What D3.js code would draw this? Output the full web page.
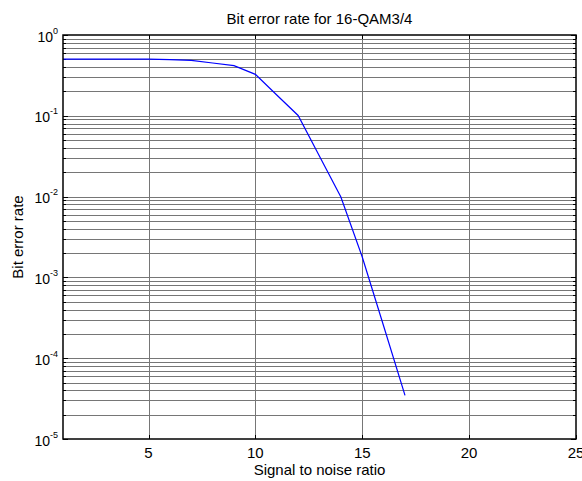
<!DOCTYPE html>
<html>
<head>
<meta charset="utf-8">
<script src="https://cdn.jsdelivr.net/npm/d3@7"></script>
<style>
  body { margin: 0; background: #fff; }
  text { font-family: "Liberation Sans", Arial, sans-serif; fill: #000; }
</style>
</head>
<body>
<div id="chart"></div>
<script>
// values
const snr = [1, 2, 3, 4, 5, 6, 7, 8, 9, 10, 11, 12, 13, 14, 15, 16, 17];
const ber = [0.504, 0.504, 0.504, 0.504, 0.504, 0.496, 0.486, 0.45, 0.417, 0.326,
             0.181, 0.101, 0.0316, 0.0099, 0.00179, 0.00025, 0.0000346];
const xTicks = [5, 10, 15, 20, 25];
const yExponents = [0, -1, -2, -3, -4, -5];

const width = 582, height = 481;
const margin = { top: 35, right: 6, bottom: 42, left: 63 };

const svg = d3.select("#chart")
  .append("svg")
  .attr("width", width)
  .attr("height", height);

const x = d3.scaleLinear().domain([1, 25]).range([margin.left, width - margin.right]);
const y = d3.scaleLog().domain([1e-5, 1]).range([height - margin.bottom, margin.top]);

const x0 = x.range()[0], x1 = x.range()[1];
const y0 = y.range()[0], y1 = y.range()[1];

svg.append("rect")
  .attr("x", x0).attr("y", y1)
  .attr("width", x1 - x0).attr("height", y0 - y1)
  .attr("fill", "#fff");

// all log ticks (major + minor)
let yAll = [];
for (let e = -5; e < 0; e++) {
  for (let m = 1; m < 10; m++) yAll.push(m * Math.pow(10, e));
}
yAll.push(1);
const yMajor = yExponents.map(e => Math.pow(10, e));

const grid = svg.append("g")
  .attr("stroke", "#767676")
  .attr("stroke-width", 1)
  .attr("shape-rendering", "crispEdges");

grid.selectAll("line.h")
  .data(yAll.filter(v => v > 1e-5 && v < 1))
  .enter().append("line")
  .attr("class", "h")
  .attr("x1", x0).attr("x2", x1)
  .attr("y1", d => Math.round(y(d)) + 0.5)
  .attr("y2", d => Math.round(y(d)) + 0.5);

grid.selectAll("line.v")
  .data(xTicks.filter(v => v < 25))
  .enter().append("line")
  .attr("class", "v")
  .attr("y1", y1).attr("y2", y0)
  .attr("x1", d => Math.round(x(d)) + 0.5)
  .attr("x2", d => Math.round(x(d)) + 0.5);

// tick marks, inward on all four sides
const ticks = svg.append("g")
  .attr("stroke", "#000")
  .attr("stroke-width", 1)
  .attr("shape-rendering", "crispEdges");

yAll.forEach(v => {
  const len = yMajor.includes(v) ? 5 : 3;
  const yy = Math.round(y(v)) + 0.5;
  ticks.append("line").attr("x1", x0).attr("x2", x0 + len).attr("y1", yy).attr("y2", yy);
  ticks.append("line").attr("x1", x1).attr("x2", x1 - len).attr("y1", yy).attr("y2", yy);
});
xTicks.forEach(v => {
  const xx = Math.round(x(v)) + 0.5;
  ticks.append("line").attr("x1", xx).attr("x2", xx).attr("y1", y0).attr("y2", y0 - 4);
  ticks.append("line").attr("x1", xx).attr("x2", xx).attr("y1", y1).attr("y2", y1 + 4);
});

// data line
const line = d3.line()
  .x((d, i) => x(snr[i]))
  .y(d => y(d));

svg.append("path")
  .datum(ber)
  .attr("fill", "none")
  .attr("stroke", "#0000ff")
  .attr("stroke-width", 1.2)
  .attr("d", line);

// box
svg.append("rect")
  .attr("x", x0).attr("y", y1)
  .attr("width", x1 - x0).attr("height", y0 - y1)
  .attr("fill", "none")
  .attr("stroke", "#000")
  .attr("stroke-width", 1.5);

// x tick labels
svg.append("g").selectAll("text")
  .data(xTicks)
  .enter().append("text")
  .attr("x", d => x(d))
  .attr("y", y0 + 19)
  .attr("text-anchor", "middle")
  .attr("font-size", 15)
  .text(d => d);

// y tick labels: 10^e
const yLab = svg.append("g").selectAll("text")
  .data(yExponents)
  .enter().append("text")
  .attr("x", x0 - 5)
  .attr("y", d => y(Math.pow(10, d)) + 6.5)
  .attr("text-anchor", "end")
  .attr("font-size", 14);
yLab.append("tspan").text("10");
yLab.append("tspan")
  .attr("dy", -8)
  .attr("font-size", 9)
  .text(d => d);

// title and axis labels
svg.append("text")
  .attr("x", (x0 + x1) / 2)
  .attr("y", 24)
  .attr("text-anchor", "middle")
  .attr("font-size", 15)
  .text("Bit error rate for 16-QAM3/4");

svg.append("text")
  .attr("x", (x0 + x1) / 2)
  .attr("y", 475)
  .attr("text-anchor", "middle")
  .attr("font-size", 15)
  .text("Signal to noise ratio");

svg.append("text")
  .attr("transform", `translate(23, ${(y0 + y1) / 2}) rotate(-90)`)
  .attr("text-anchor", "middle")
  .attr("font-size", 15)
  .text("Bit error rate");
</script>
</body>
</html>
